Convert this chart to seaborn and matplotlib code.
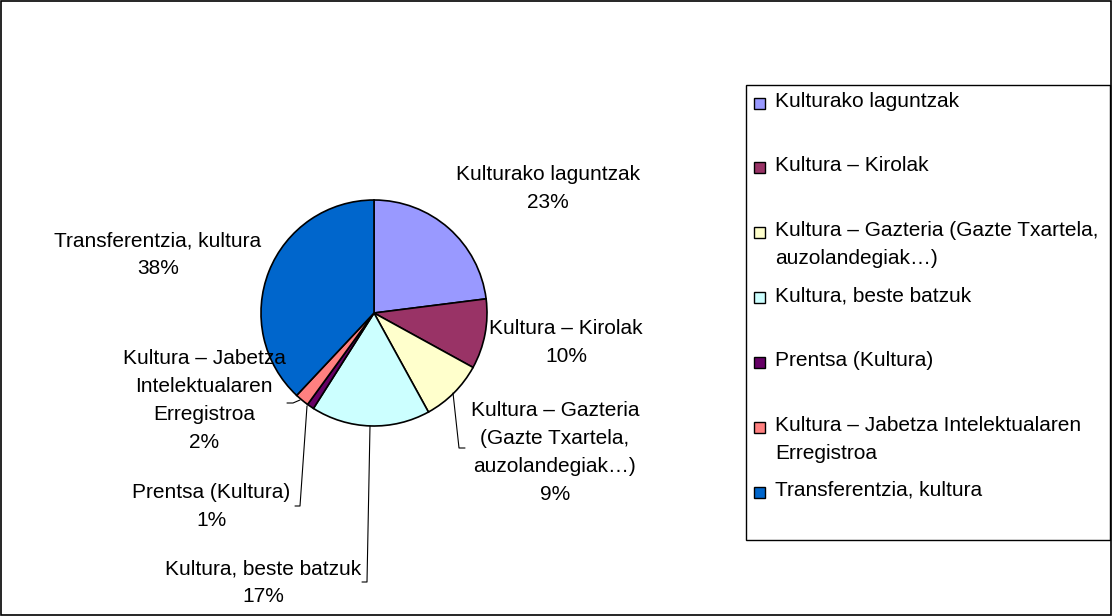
import numpy as np
import matplotlib
matplotlib.use("Agg")
import matplotlib.pyplot as plt
import seaborn as sns
from matplotlib.patches import Rectangle

# datuak
categories = ["Kulturako laguntzak", "Kultura – Kirolak",
              "Kultura – Gazteria (Gazte Txartela,\nauzolandegiak…)",
              "Kultura, beste batzuk", "Prentsa (Kultura)",
              "Kultura – Jabetza Intelektualaren\nErregistroa",
              "Transferentzia, kultura"]
pie_labels = ["Kulturako laguntzak", "Kultura – Kirolak",
              "Kultura – Gazteria\n(Gazte Txartela,\nauzolandegiak…)",
              "Kultura, beste batzuk", "Prentsa (Kultura)",
              "Kultura – Jabetza\nIntelektualaren\nErregistroa",
              "Transferentzia, kultura"]
values = [23, 10, 9, 17, 1, 2, 38]
colors = ["#9999FF", "#993366", "#FFFFCC", "#CCFFFF", "#660066", "#FF8080", "#0066CC"]

sns.set_theme(style="white")
plt.rcParams['font.family'] = ['Liberation Sans', 'DejaVu Sans']
plt.rcParams['text.color'] = 'black'
pal = sns.color_palette(colors)

W, H = 1112, 616
fig = plt.figure(figsize=(W / 100, H / 100), dpi=100)
ax = fig.add_axes([0, 0, 1, 1])

cx, cy, r = 374, 313, 113
# y-axis is inverted so counterclock=True draws clockwise on screen
wedges, _ = ax.pie(values, colors=pal, startangle=-90, counterclock=True,
                   center=(cx, cy), radius=r, frame=True,
                   wedgeprops=dict(edgecolor="black", linewidth=1.2))
ax.set_xlim(0, W)
ax.set_ylim(H, 0)
ax.set_aspect("equal")
ax.axis("off")

# etiketen kokapenak (testuaren zentroa)
lab_pos = [(548, 188), (566, 343), (555, 453), (263, 583),
           (211, 507), (204, 401), (158, 255)]
fs = 15
for lab, v, (x, y) in zip(pie_labels, values, lab_pos):
    ax.text(x, y, f"{lab}\n{v}%", ha="center", va="center", fontsize=fs,
            linespacing=1.6, color="black")

# leader lines
leaders = [
    [(453, 393), (459, 448), (465, 448)],
    [(370, 426), (367, 582), (362, 582)],
    [(307, 406), (300, 506), (295, 506)],
    [(300, 400), (293, 403), (287, 403)],
]
for pts in leaders:
    xs, ys = zip(*pts)
    ax.plot(xs, ys, color="black", lw=0.8)

# legenda
ax.add_patch(Rectangle((746, 85), 364, 455, fill=False, edgecolor="black", lw=1))
ly = [103, 167, 232, 297, 362, 427, 492]
for lab, c, y in zip(categories, pal, ly):
    ax.add_patch(Rectangle((754, y - 5), 11, 11, facecolor=c, edgecolor="black", lw=1))
    ax.text(775, y - 11, lab, ha="left", va="top", fontsize=fs, linespacing=1.6,
            color="black")

# kanpoko markoa
ax.add_patch(Rectangle((0.5, 0.5), W - 1.5, H - 1.5, fill=False, edgecolor="black", lw=1.2))

fig.savefig("out.png", dpi=100)
